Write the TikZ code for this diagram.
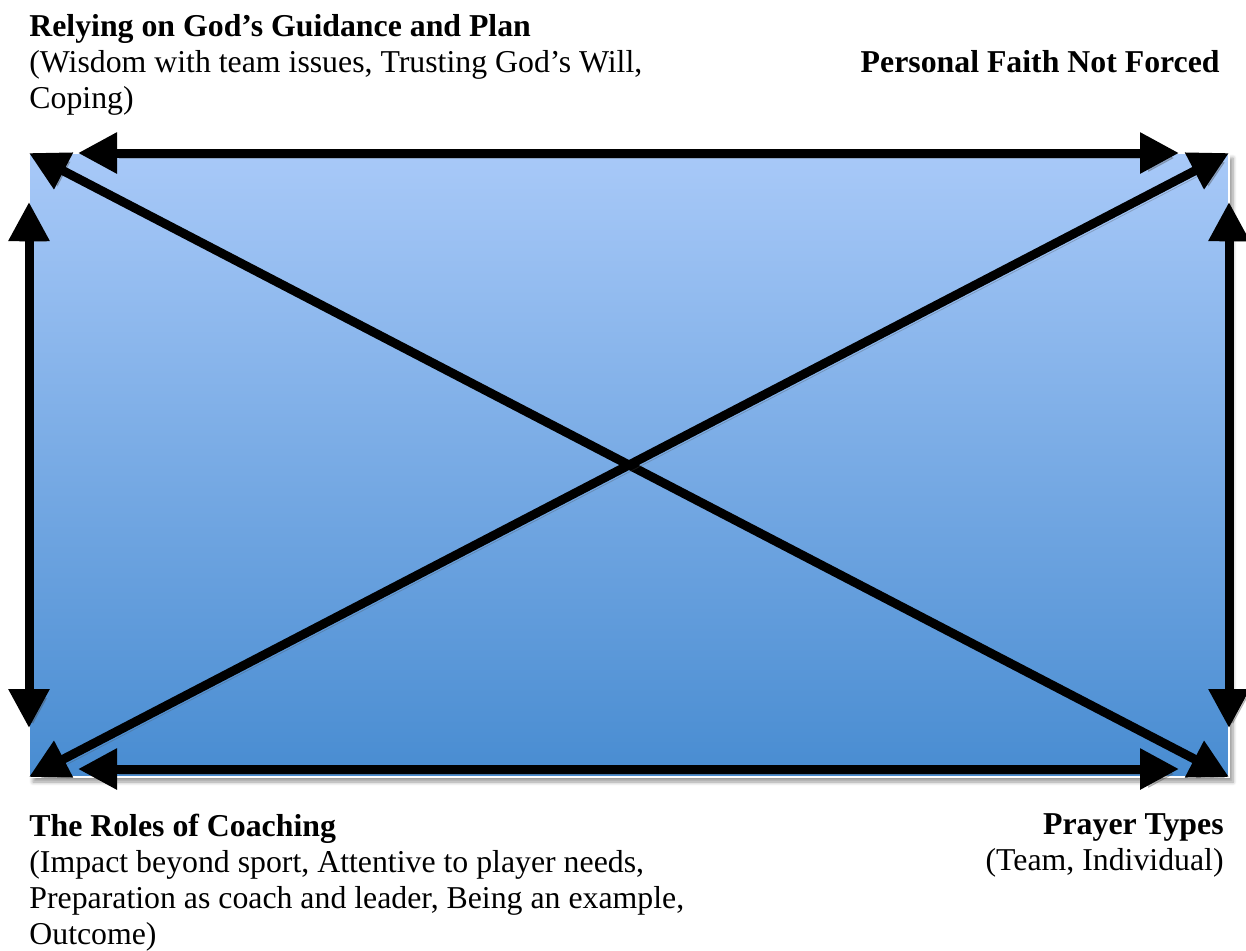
\documentclass[tikz,border=0pt]{standalone}
\usepackage{fontspec}
\setmainfont{Liberation Serif}
\usetikzlibrary{arrows.meta,shadows.blur}

\definecolor{boxtop}{RGB}{168,201,248}
\definecolor{boxbot}{RGB}{72,140,209}

\begin{document}
\begin{tikzpicture}[x=0.5pt,y=-0.5pt,
  twoway/.style={line width=4.5pt,
    {Triangle[length=19.5pt,width=19.5pt]}-{Triangle[length=19.5pt,width=19.5pt]},
    preaction={draw=black!70,opacity=0.3,transform canvas={xshift=2pt,yshift=-2.5pt}}},
  theme/.style={font=\fontsize{15.9}{18}\selectfont,inner sep=0pt},
  field/.style={minimum width=600pt,minimum height=312pt,inner sep=0pt,outer sep=0pt,
    top color=boxtop,bottom color=boxbot,draw=white,line width=0.8pt,
    blur shadow={shadow xshift=2pt,shadow yshift=-2.5pt,shadow blur steps=6}}]

% Page size
\useasboundingbox (0,0) rectangle (1246,950);

% Shaded field
\node[field] (box) at (629,465) {};

% Edge arrows
\draw[twoway] ([xshift=24.5pt]box.north west) -- ([xshift=-25pt]box.north east);
\draw[twoway] ([xshift=24.5pt,yshift=4pt]box.south west) -- ([xshift=-25pt,yshift=4pt]box.south east);
\draw[twoway] ([yshift=-24.5pt]box.north west) -- ([yshift=24.5pt]box.south west);
\draw[twoway] ([yshift=-24.5pt]box.north east) -- ([yshift=24.5pt]box.south east);

% Diagonal arrows
\draw[twoway] (box.north west) -- (box.south east);
\draw[twoway] (box.south west) -- (box.north east);

% Corner themes (base = last line)
\node[theme,align=left,anchor=base west] (relying) at (29,108)
  {\textbf{Relying on God's Guidance and Plan}\\(Wisdom with team issues, Trusting God's Will,\\Coping)};
\node[theme,anchor=base east] (personal) at (1220,72) {\textbf{Personal Faith Not Forced}};
\node[theme,align=left,anchor=base west] (roles) at (29,944)
  {\textbf{The Roles of Coaching}\\(Impact beyond sport, Attentive to player needs,\\Preparation as coach and leader, Being an example,\\Outcome)};
\node[theme,align=right,anchor=base east] (prayer) at (1224,870)
  {\textbf{Prayer Types}\\(Team, Individual)};

\end{tikzpicture}
\end{document}
